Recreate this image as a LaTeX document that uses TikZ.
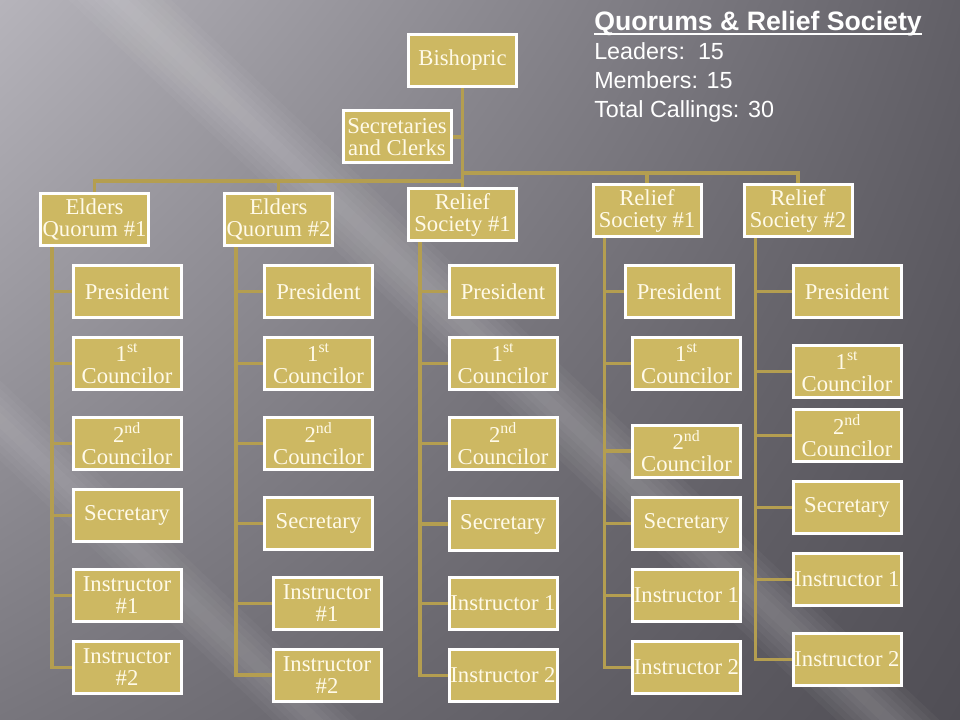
\documentclass[tikz,border=0pt]{standalone}
\usepackage{fontspec}
\setmainfont{Liberation Serif}
\newfontfamily\arialfont{Liberation Sans}
\usetikzlibrary{backgrounds,shadings}
\definecolor{gold}{RGB}{205,184,98}
\definecolor{linegold}{RGB}{180,158,80}
\definecolor{cream}{RGB}{255,250,232}
\definecolor{bgul}{RGB}{182,180,187}
\definecolor{bgur}{RGB}{98,96,103}
\definecolor{bgll}{RGB}{120,118,125}
\definecolor{bglr}{RGB}{80,78,85}

\begin{document}
\begin{tikzpicture}[x=0.75pt,y=-0.75pt,
  box/.style={draw=white,fill=gold,line width=2.25pt,minimum width=81pt,
    minimum height=39pt,inner sep=1pt,align=center,text=cream,
    font=\fontsize{17}{16.5}\selectfont},
  link/.style={draw=linegold,line width=2.6pt},
  stat/.style={anchor=base west,inner sep=0pt,text=white,
    font=\arialfont\fontsize{17.5}{20}\selectfont}]
  \useasboundingbox (0,0) rectangle (960,720);

  % top of the tree
  \node[box] (bish) at (462.5,60.5) {Bishopric};
  \node[box] (secs) at (397,137) {Secretaries\\and Clerks};
  \node[box] (eq1) at (94.5,219.5) {Elders\\Quorum \#1};
  \node[box] (eq2) at (278.5,219.5) {Elders\\Quorum \#2};
  \node[box] (rs1) at (462.5,214.5) {Relief\\Society \#1};
  \node[box] (rs1b) at (647,211) {Relief\\Society \#1};
  \node[box] (rs2) at (798,211) {Relief\\Society \#2};
  \coordinate (lbus) at (462.5,181);
  \coordinate (rbus) at (462.5,173);

  % Elders Quorum #1
  \node[box] (eq1pres) at (127,291.5) {President};
  \node[box] (eq1first) at (127,363.5) {1\textsuperscript{st}\\Councilor};
  \node[box] (eq1second) at (127,443.5) {2\textsuperscript{nd}\\Councilor};
  \node[box] (eq1sec) at (127,515.5) {Secretary};
  \node[box] (eq1ins1) at (127,595.5) {Instructor\\\#1};
  \node[box] (eq1ins2) at (127,667.5) {Instructor\\\#2};

  % Elders Quorum #2
  \node[box] (eq2pres) at (318.5,291.5) {President};
  \node[box] (eq2first) at (318.5,363.5) {1\textsuperscript{st}\\Councilor};
  \node[box] (eq2second) at (318.5,443.5) {2\textsuperscript{nd}\\Councilor};
  \node[box] (eq2sec) at (318.5,523.5) {Secretary};
  \node[box] (eq2ins1) at (327,603.5) {Instructor\\\#1};
  \node[box] (eq2ins2) at (327,675) {Instructor\\\#2};

  % Relief Society #1
  \node[box] (rs1pres) at (503,291.5) {President};
  \node[box] (rs1first) at (503,363.5) {1\textsuperscript{st}\\Councilor};
  \node[box] (rs1second) at (503,443.5) {2\textsuperscript{nd}\\Councilor};
  \node[box] (rs1sec) at (503,524) {Secretary};
  \node[box] (rs1ins1) at (503,603.5) {Instructor 1};
  \node[box] (rs1ins2) at (503,675.5) {Instructor 2};

  % Relief Society #1 (second)
  \node[box] (rs1bpres) at (679,291.5) {President};
  \node[box] (rs1bfirst) at (686.5,363.5) {1\textsuperscript{st}\\Councilor};
  \node[box] (rs1bsecond) at (686.5,451) {2\textsuperscript{nd}\\Councilor};
  \node[box] (rs1bsec) at (686.5,523.5) {Secretary};
  \node[box] (rs1bins1) at (686.5,595.5) {Instructor 1};
  \node[box] (rs1bins2) at (686.5,667.5) {Instructor 2};

  % Relief Society #2
  \node[box] (rs2pres) at (847,291.5) {President};
  \node[box] (rs2first) at (847,371.5) {1\textsuperscript{st}\\Councilor};
  \node[box] (rs2second) at (847,435.5) {2\textsuperscript{nd}\\Councilor};
  \node[box] (rs2sec) at (847,507.5) {Secretary};
  \node[box] (rs2ins1) at (847,579.5) {Instructor 1};
  \node[box] (rs2ins2) at (847,659.5) {Instructor 2};

  % totals
  \node[stat,font=\arialfont\bfseries\fontsize{20}{24}\selectfont] (title) at (594,31) {Quorums \& Relief Society};
  \node[stat] (leaders) at (594,60) {Leaders:\ \ 15};
  \node[stat] (members) at (594,89) {Members: 15};
  \node[stat] (total) at (594,118) {Total Callings: 30};
  \draw[white,line width=1.5pt] ([yshift=-2.6pt]title.base west) -- ([yshift=-2.6pt]title.base east);

  \begin{scope}[on background layer]
    \clip (0,0) rectangle (960,720);
    \shade[upper left=bgul,upper right=bgur,lower left=bgll,lower right=bglr]
      (0,0) rectangle (960,720);
    \foreach \w in {8,16,...,48}
      \fill[white,opacity=0.035] (-200,-300-\w) -- (980,806-\w) -- (980,806+\w) -- (-200,-300+\w) -- cycle;
    \foreach \w in {8,16,...,40}
      \fill[white,opacity=0.03] (-200,230-\w) -- (420,820-\w) -- (420,820+\w) -- (-200,230+\w) -- cycle;
    \path[link] (bish) -- (rs1)
      (secs.east) -- (secs.east -| bish.south)
      (eq1.north) |- (lbus)
      (eq2.north) |- (lbus)
      (rs1b.north) |- (rbus)
      (rs2.north) |- (rbus);
    \foreach \p in {eq1,eq2,rs1,rs1b,rs2}
      \foreach \c in {pres,first,second,sec,ins1,ins2}
        \draw[link] ([xshift=9.75pt]\p.south west) |- (\p\c.west);
  \end{scope}
\end{tikzpicture}
\end{document}
